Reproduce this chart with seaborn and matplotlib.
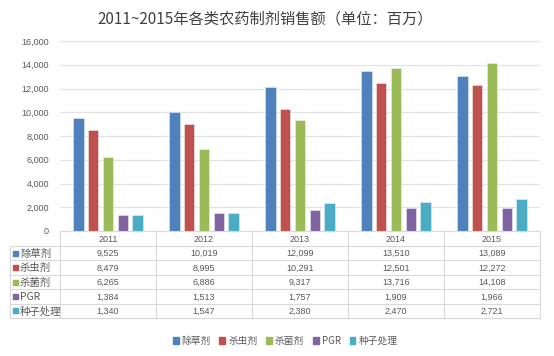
import matplotlib
matplotlib.use("Agg")
import matplotlib.pyplot as plt
import seaborn as sns
import pandas as pd
from matplotlib.patches import Rectangle

years = ["2011", "2012", "2013", "2014", "2015"]
series = ["除草剂", "杀虫剂", "杀菌剂", "PGR", "种子处理"]
herbicide = [9525, 10019, 12099, 13510, 13089]
insecticide = [8479, 8995, 10291, 12501, 12272]
fungicide = [6265, 6886, 9317, 13716, 14108]
pgr = [1384, 1513, 1757, 1909, 1966]
seed = [1340, 1547, 2380, 2470, 2721]
values = [herbicide, insecticide, fungicide, pgr, seed]
colors = ["#4F81BD", "#C0504D", "#9BBB59", "#8064A2", "#4BACC6"]
yticks = [0, 2000, 4000, 6000, 8000, 10000, 12000, 14000, 16000]
title = "2011~2015年各类农药制剂销售额（单位：百万）"

rows = []
for s, vals in zip(series, values):
    for y, v in zip(years, vals):
        rows.append({"year": y, "type": s, "value": v})
df = pd.DataFrame(rows)

sns.set_theme(style="white")
plt.rcParams['font.family'] = ['Noto Sans CJK SC', 'DejaVu Sans']

W, H = 554, 356
fig = plt.figure(figsize=(W / 100, H / 100), dpi=100)
fig.patch.set_facecolor("white")

# pixel layout
ax_l, ax_r, ax_t, ax_b = 60, 540, 41, 231
ax = fig.add_axes([ax_l / W, 1 - ax_b / H, (ax_r - ax_l) / W, (ax_b - ax_t) / H])

sns.barplot(data=df, x="year", y="value", hue="type", palette=colors,
            order=years, hue_order=series, width=0.78, gap=0.27, saturation=1,
            edgecolor="#E8EEF6", linewidth=0.4, legend=False, ax=ax)
ax.set_ylim(0, 16000)
ax.set_xlim(-0.5, len(years) - 0.5)
ax.set_yticks(yticks)
ax.set_yticklabels([f"{t:,}" for t in yticks], fontsize=6.5, color="#595959",
                   family=['Liberation Sans', 'DejaVu Sans'])
ax.set_xticks([])
ax.set_xlabel("")
ax.set_ylabel("")
ax.tick_params(axis="y", length=0, pad=8)
ax.grid(axis="y", color="#E3E3E3", linewidth=0.9)
ax.set_axisbelow(True)
for sp in ax.spines.values():
    sp.set_visible(False)

# overlay in pixel coordinates for the data table
ov = fig.add_axes([0, 0, 1, 1], facecolor="none")
ov.set_xlim(0, W)
ov.set_ylim(H, 0)
ov.axis("off")

fig.text(265 / W, 1 - 19 / H, title, ha="center", va="center", fontsize=11, color="#404040")

line_c = "#D9D9D9"
col_w = (ax_r - ax_l) / len(years)
header_top, header_bot = ax_b, 246
row_h = 14.4
table_bot = header_bot + row_h * len(series)
left = 10

# vertical lines
for i in range(len(years) + 1):
    x = ax_l + i * col_w
    ov.plot([x, x], [header_top, table_bot], color=line_c, lw=0.8)
ov.plot([left, left], [header_bot, table_bot], color=line_c, lw=0.8)
# horizontal lines
ov.plot([ax_l, ax_r], [header_top, header_top], color=line_c, lw=0.8)
for j in range(len(series) + 1):
    y = header_bot + j * row_h
    ov.plot([left, ax_r], [y, y], color=line_c, lw=0.8)

num_font = ['Liberation Sans', 'DejaVu Sans']
for i, yr in enumerate(years):
    cx = ax_l + (i + 0.5) * col_w
    ov.text(cx, (header_top + header_bot) / 2 + 0.5, yr, ha="center", va="center",
            fontsize=6.5, color="#595959", family=num_font)
for j, (s, vals, c) in enumerate(zip(series, values, colors)):
    cy = header_bot + (j + 0.5) * row_h
    ov.add_patch(Rectangle((13, cy - 2.5), 5, 5, color=c))
    ov.text(20, cy + 0.5, s, ha="left", va="center", fontsize=7.5, color="#595959")
    for i, v in enumerate(vals):
        cx = ax_l + (i + 0.5) * col_w
        ov.text(cx, cy + 0.5, f"{v:,}", ha="center", va="center",
                fontsize=6.5, color="#595959", family=num_font)

# legend
handles = [Rectangle((0, 0), 1, 1, color=c) for c in colors]
leg = fig.legend(handles, series, loc="center", bbox_to_anchor=(285 / W, 1 - 341 / H),
                 ncol=5, frameon=False, fontsize=7, handlelength=0.6, handleheight=0.6,
                 handletextpad=0.3, columnspacing=0.9, labelcolor="#595959")

fig.savefig("out.png", dpi=100, facecolor="white")
